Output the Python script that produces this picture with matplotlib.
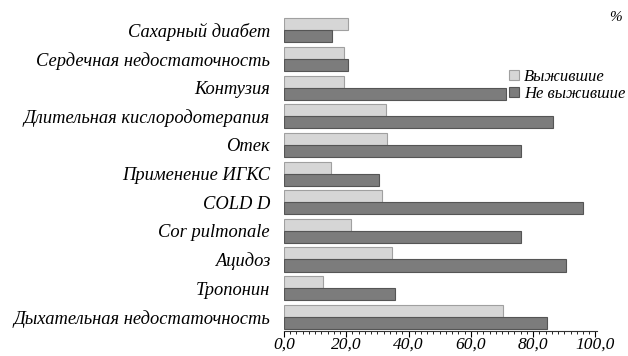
import numpy as np
import matplotlib.pyplot as plt

categories = ["Сахарный диабет", "Сердечная недостаточность", "Контузия",
              "Длительная кислородотерапия", "Отек", "Применение ИГКС",
              "COLD D", "Cor pulmonale", "Ацидоз", "Тропонин",
              "Дыхательная недостаточность"]
survived = [20.4, 19.2, 19.2, 32.6, 33.2, 15.0, 31.4, 21.4, 34.8, 12.5, 70.3]
died = [15.3, 20.4, 71.2, 86.3, 76.0, 30.4, 96.0, 76.0, 90.7, 35.8, 84.3]
xticks = [0, 20, 40, 60, 80, 100]
xtick_labels = ["0,0", "20,0", "40,0", "60,0", "80,0", "100,0"]

plt.rcParams['font.family'] = ['Liberation Serif', 'DejaVu Serif']

fig = plt.figure(figsize=(6.28, 3.56), dpi=100)
ax = fig.add_axes([0.4522, 0.07, 0.4984, 0.885])

y = np.arange(len(categories))
h = 0.42
ax.barh(y - h / 2, survived, height=h, color='#d6d6d6', edgecolor='#a0a0a0',
        linewidth=0.8, label='Выжившие')
ax.barh(y + h / 2, died, height=h, color='#7c7c7c', edgecolor='#555555',
        linewidth=0.8, label='Не выжившие')

ax.set_ylim(10.5, -0.5)
ax.set_xlim(0, 100.5)
ax.set_yticks(y)
ax.set_yticklabels(categories, fontsize=13.3, style='italic')
ax.tick_params(axis='y', length=0, pad=10)
ax.set_xticks(xticks)
ax.set_xticklabels(xtick_labels, fontsize=12.5, style='italic')
ax.set_xticks(np.arange(0, 101, 2), minor=True)
ax.tick_params(axis='x', which='major', length=4, direction='out', pad=0)
ax.tick_params(axis='x', which='minor', length=2, direction='out')

for s in ['top', 'right', 'left']:
    ax.spines[s].set_visible(False)
ax.spines['bottom'].set_color('#333333')

ax.legend(loc='upper left', bbox_to_anchor=(0.80, 0.825), bbox_transform=fig.transFigure,
          frameon=False, prop={'size': 12, 'style': 'italic'}, handlelength=0.6,
          handleheight=0.6, handletextpad=0.3, labelspacing=0.05, borderaxespad=0)

fig.text(0.99, 0.95, "%", fontsize=11, style='italic', ha='right', va='center')

plt.savefig('out.png', dpi=100)
